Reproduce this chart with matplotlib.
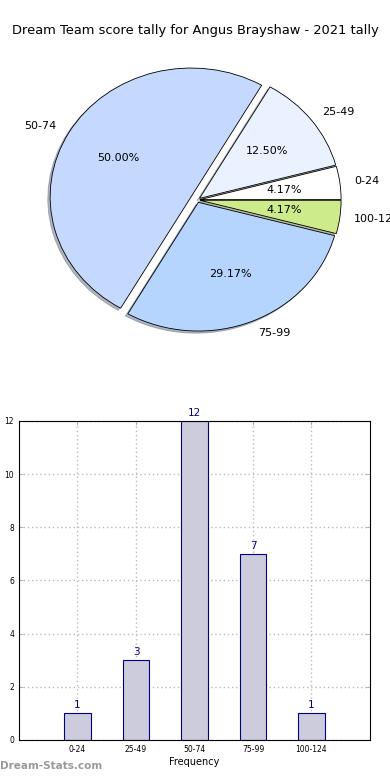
import matplotlib
matplotlib.use('Agg')
import matplotlib.pyplot as plt

#-- Data
categories = ['0-24', '25-49', '50-74', '75-99', '100-124']
counts = [1, 3, 12, 7, 1]
pie_colors = ['#ffffff', '#eaf2ff', '#c5d9ff', '#b5d5ff', '#cdeb8b']
explode = [0.02, 0.02, 0.05, 0.02, 0.02]
title = 'Dream Team score tally for Angus Brayshaw - 2021 tally'

fig = plt.figure(figsize=(3.9, 7.8), dpi=100)

#-- Pie (stretched, like the old non-equal aspect pies)
ax1 = fig.add_axes([0.0538, 0.5374, 0.904, 0.4125])
wedges, texts, autotexts = ax1.pie(counts, labels=categories, colors=pie_colors,
                                   explode=explode, autopct='%1.2f%%',
                                   shadow={'ox': -0.012, 'oy': -0.012, 'shade': 0.5},
                                   startangle=0, textprops={'fontsize': 8},
                                   wedgeprops={'edgecolor': 'black', 'linewidth': 0.6})
ax1.set_aspect('auto')
ax1.set_xlim(-1.25, 1.25)
ax1.set_ylim(-1.25, 1.25)
fig.text(0.5, 0.961, title, ha='center', va='center', fontsize=9.4)

#-- Bars
ax2 = fig.add_axes([0.0487, 0.0513, 0.9, 0.409])
xpos = list(range(len(categories)))
bars = ax2.bar(xpos, counts, width=0.45, color='#ccccdd', edgecolor='#000080',
               linewidth=0.8, zorder=2)
for x, c in zip(xpos, counts):
    ax2.text(x, c + 0.12, str(c), ha='center', va='bottom', fontsize=7.5, color='#000080')
ax2.set_xlim(-1, 5)
ax2.set_ylim(0, 12)
ax2.set_xticks(xpos)
ax2.set_xticklabels(categories, fontsize=5.5)
ax2.set_yticks(range(0, 13, 2))
ax2.tick_params(axis='y', labelsize=5.5)
ax2.tick_params(direction='in', top=True, right=True, length=3, width=0.5, colors='#999999',
                labelcolor='black')
ax2.grid(True, linestyle=(0, (1, 2)), color='#bbbbbb', linewidth=1, zorder=0)
ax2.set_axisbelow(True)
ax2.set_xlabel('Frequency', fontsize=7, labelpad=2)
ax2.set_ylabel('Distribution', fontsize=7)
ax2.yaxis.set_label_coords(-0.055, 0.5)

fig.text(0.0, 0.012, 'Dream-Stats.com', fontsize=7.5, color='#999999', fontweight='bold',
         ha='left', va='bottom')

plt.savefig('out.png', dpi=100)
